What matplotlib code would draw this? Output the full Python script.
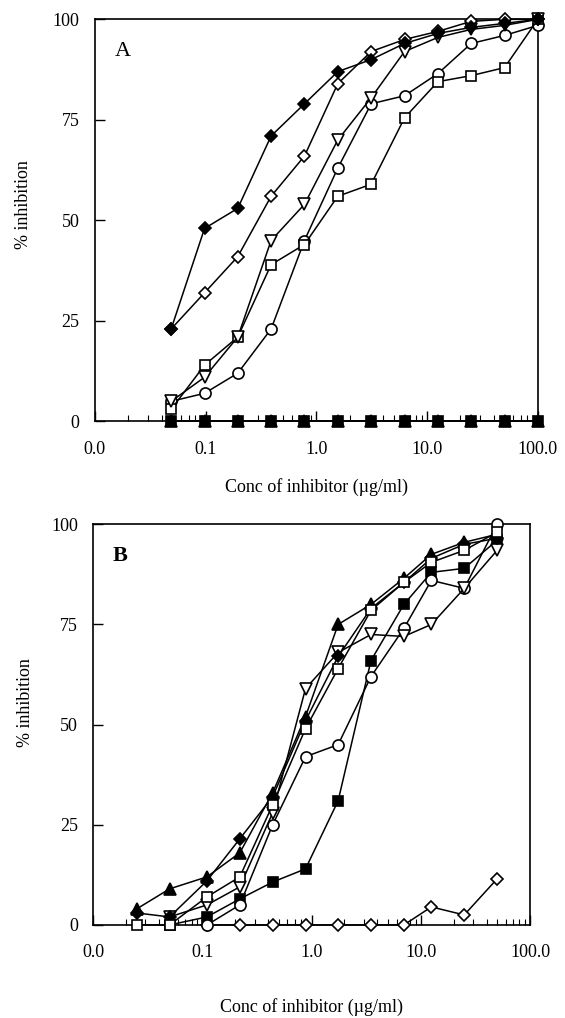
import numpy as np
import matplotlib
matplotlib.use("Agg")
import matplotlib.pyplot as plt
from matplotlib.ticker import LogLocator, NullFormatter, FixedLocator, FixedFormatter

plt.rcParams['font.family'] = ['Liberation Serif', 'DejaVu Serif']

# Panel A: concentrations (ug/ml) and % inhibition
conc_a = [0.0488, 0.0977, 0.195, 0.39, 0.78, 1.56, 3.125, 6.25, 12.5, 25, 50, 100]
a_filled_diamond = [23, 48, 53, 71, 79, 87, 90, 94, 96.5, 98, 99, 100]
a_open_diamond = [23, 32, 41, 56, 66, 84, 92, 95, 97, 99.5, 100, 100]
a_open_triangle = [5, 11, 21, 45, 54, 70, 80.5, 92, 95.5, 97.5, 98.5, 100]
a_open_square = [3, 14, 21, 39, 44, 56, 59, 75.5, 84.5, 86, 88, 100]
a_open_circle = [5, 7, 12, 23, 45, 63, 79, 81, 86.5, 94, 96, 98.5]
a_filled_triangle = [0, 0, 0, 0, 0, 0, 0, 0, 0, 0, 0, 0]
a_filled_square = [0, 0, 0, 0, 0, 0, 0, 0, 0, 0, 0, 0]

# Panel B
conc_b = [0.025, 0.05, 0.11, 0.22, 0.44, 0.88, 1.75, 3.5, 7.0, 12.5, 25, 50]
b_filled_triangle = [4, 9, 12, 18, 33, 52, 75, 80, 86.5, 92.5, 95.5, 97.5]
b_filled_diamond = [3, 2, 11, 21.5, 32, 51, 67, 79, 85.5, 91.5, 95, 96.5]
b_open_square = [0, 0, 7, 12, 30, 49, 64, 78.5, 85.5, 90.5, 93.5, 98]
b_open_triangle = [2, 5, 9.5, 28, 59, 68, 72.5, 72, 75, 84, 93.5]          # from 0.05
b_filled_square = [0, 2, 6.5, 10.7, 14, 31, 66, 80, 88, 89, 96]            # from 0.05
b_open_circle = [0, 5, 25, 42, 45, 62, 74, 86, 84, 100]                    # from 0.11
b_open_diamond = [0, 0, 0, 0, 0, 0, 0, 4.5, 2.5, 11.5]                     # from 0.11

xticks = [0.01, 0.1, 1, 10, 100]
xticklabels = ['0.0', '0.1', '1.0', '10.0', '100.0']
yticks = [0, 25, 50, 75, 100]

fig = plt.figure(figsize=(5.65, 10.18), dpi=100)
axA = fig.add_axes([0.168, 0.586, 0.784, 0.395])
axB = fig.add_axes([0.165, 0.0914, 0.773, 0.3936])

def series(ax, x, y, marker, filled, ms=7):
    ax.plot(x, y, color='black', lw=1.1, marker=marker, ms=ms,
            mfc='black' if filled else 'white', mec='black', mew=1.2,
            clip_on=False, zorder=3)

series(axA, conc_a, a_filled_triangle, '^', True, 8)
series(axA, conc_a, a_filled_square, 's', True, 7)
series(axA, conc_a, a_open_circle, 'o', False, 8)
series(axA, conc_a, a_open_square, 's', False, 7.5)
series(axA, conc_a, a_open_triangle, 'v', False, 8)
series(axA, conc_a, a_open_diamond, 'D', False, 6)
series(axA, conc_a, a_filled_diamond, 'D', True, 6)

series(axB, conc_b[2:], b_open_diamond, 'D', False, 6)
series(axB, conc_b[1:], b_filled_square, 's', True, 7)
series(axB, conc_b[2:], b_open_circle, 'o', False, 8)
series(axB, conc_b[1:], b_open_triangle, 'v', False, 8)
series(axB, conc_b, b_filled_diamond, 'D', True, 6)
series(axB, conc_b, b_filled_triangle, '^', True, 8)
series(axB, conc_b, b_open_square, 's', False, 7.5)

for ax, lab, bold in [(axA, 'A', False), (axB, 'B', True)]:
    ax.set_xscale('log')
    ax.set_xlim(0.01, 100)
    ax.set_ylim(0, 100)
    ax.xaxis.set_major_locator(FixedLocator(xticks))
    ax.xaxis.set_major_formatter(FixedFormatter(xticklabels))
    ax.xaxis.set_minor_locator(LogLocator(base=10, subs=np.arange(2, 10)))
    ax.xaxis.set_minor_formatter(NullFormatter())
    ax.set_yticks(yticks)
    ax.tick_params(which='both', direction='in', top=False, right=False,
                   labelsize=13)
    ax.tick_params(which='major', length=7, width=1)
    ax.tick_params(which='minor', length=4, width=0.8)
    ax.tick_params(axis='x', pad=14)
    ax.tick_params(axis='y', pad=11)
    for s in ax.spines.values():
        s.set_linewidth(1.2)
    ax.set_xlabel('Conc of inhibitor (\u00b5g/ml)', fontsize=13)
    ax.set_ylabel('% inhibition', fontsize=13)
    ax.text(0.045, 0.92, lab, transform=ax.transAxes, fontsize=16,
            fontweight='bold' if bold else 'normal', va='center', ha='left')

axA.xaxis.set_label_coords(0.5, -0.14)
axA.yaxis.set_label_coords(-0.142, 0.54)
axB.xaxis.set_label_coords(0.5, -0.182)
axB.yaxis.set_label_coords(-0.135, 0.556)

fig.savefig('out.png', dpi=100)
